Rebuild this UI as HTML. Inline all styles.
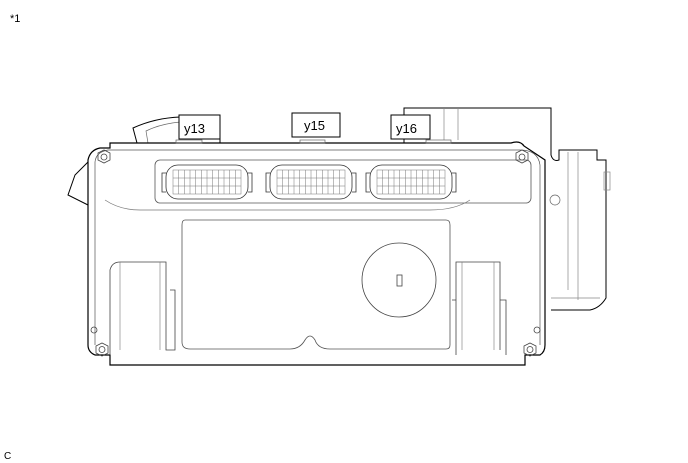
<!DOCTYPE html>
<html><head><meta charset="utf-8"><style>
html,body{margin:0;padding:0;background:#fff;}
svg{display:block;font-family:"Liberation Sans",sans-serif;}
</style></head><body>
<svg width="688" height="463" viewBox="0 0 688 463" xmlns="http://www.w3.org/2000/svg">
<rect width="688" height="463" fill="#fff"/>
<text x="10" y="22" font-size="11">*1</text>
<text x="4" y="459" font-size="10">C</text>
<g fill="none" stroke="#000" stroke-width="1">
<!-- left tab top -->
<path d="M137 143 L133 128 Q155 118 180 117" />
<path d="M148 143 L146 131 Q160 124 180 122" stroke="#666" stroke-width="0.7"/>
<!-- right bracket -->
<path d="M404 143 V108 H551 V155 Q553 162 559 160 V150 H597 V160 H606 V298 Q600 308 590 310 H551"/>
<path d="M444 108 V140 M458 108 V140" stroke="#888" stroke-width="0.7"/>
<path d="M568 152 V290 M578 152 V300" stroke="#888" stroke-width="0.7"/>
<path d="M551 298 H600" stroke="#888" stroke-width="0.7"/>
<rect x="604" y="172" width="6" height="18" stroke="#888" stroke-width="0.7"/>
<circle cx="555" cy="200" r="5" stroke="#666" stroke-width="0.7"/>
<!-- housing outer -->
<path d="M110 143 H511 Q520 140 524 146 L545 160 V345 Q545 352 540 355 H525 V365 H110 V355 H95 Q88 352 88 345 V160 Q90 150 100 148 H110 Z" stroke-width="1.2"/>
<path d="M95 345 V162 Q96 152 108 150 H520 Q538 150 540 165 V345" stroke="#555" stroke-width="0.7"/>
<!-- left flap -->
<path d="M88 162 L75 175 L68 195 L88 205" />
<!-- hex bolts -->
<g stroke="#444" stroke-width="0.8">
<polygon points="98,153 104,150 110,153 110,160 104,163 98,160"/><circle cx="104" cy="157" r="3"/>
<polygon points="516,153 522,150 528,153 528,160 522,163 516,160"/><circle cx="522" cy="157" r="3"/>
<polygon points="96,346 102,343 108,346 108,353 102,356 96,353"/><circle cx="102" cy="349.5" r="3"/>
<polygon points="524,346 530,343 536,346 536,353 530,356 524,353"/><circle cx="530" cy="349.5" r="3"/>
<circle cx="94" cy="330" r="3"/><circle cx="537" cy="330" r="3"/>
</g>
<!-- connector strip -->
<rect x="155" y="160" width="376" height="43" rx="5" stroke="#555" stroke-width="0.8"/>
<!-- inner big rect -->
<path d="M185 220 H446 Q450 220 450 225 V345 Q450 349 446 349 H330 Q318 349 315 340 Q310 332 305 340 Q300 349 290 349 H190 Q182 349 182 342 V225 Q182 220 185 220 Z" stroke="#555" stroke-width="0.8"/>
<path d="M105 200 Q120 210 140 210 H430 Q455 210 470 200" stroke="#777" stroke-width="0.7"/>
<circle cx="399" cy="280" r="37" stroke="#444" stroke-width="0.8"/>
<rect x="397" y="275" width="5" height="11" stroke="#444" stroke-width="0.8"/>
<!-- left latch -->
<path d="M110 355 V270 Q112 262 120 262 H166 V350 H175 V290 H170" stroke="#444" stroke-width="0.8"/>
<path d="M120 262 V350 M160 262 V350" stroke="#777" stroke-width="0.6"/>
<!-- right latch -->
<path d="M456 355 V262 H500 V350 M452 300 H456 M500 300 H506 V355" stroke="#444" stroke-width="0.8"/>
<path d="M462 262 V350 M494 262 V350" stroke="#777" stroke-width="0.6"/>
<!-- top small tabs -->
<rect x="176" y="140" width="26" height="3" stroke="#666" stroke-width="0.7"/>
<rect x="300" y="140" width="25" height="3" stroke="#666" stroke-width="0.7"/>
<rect x="426" y="140" width="25" height="3" stroke="#666" stroke-width="0.7"/>
</g>
<!-- connectors -->
<g id="c" fill="none" stroke="#333" stroke-width="0.8">
<path d="M166 173 H162 V192 H166 M248 173 H252 V192 H248"/>
<rect x="166" y="165" width="82" height="34" rx="12"/>
<g stroke-width="0.5" stroke="#777">
<rect x="173" y="170" width="68" height="24"/>
<path d="M173 178 H241 M173 186 H241 M178.7 170 V194 M184.3 170 V194 M190 170 V194 M195.7 170 V194 M201.3 170 V194 M207 170 V194 M212.7 170 V194 M218.3 170 V194 M224 170 V194 M229.7 170 V194 M235.3 170 V194"/>
</g>
</g>
<use href="#c" x="104"/>
<use href="#c" x="204"/>
<!-- label boxes -->
<g fill="#fff" stroke="#000" stroke-width="1">
<rect x="179" y="115" width="41" height="24"/>
<rect x="292" y="113" width="48" height="24"/>
<rect x="391" y="115" width="39" height="24"/>
</g>
<path d="M220 115 V143" stroke="#000"/>
<g font-size="13" fill="#000">
<text x="184" y="133">y13</text>
<text x="304" y="130">y15</text>
<text x="396" y="133">y16</text>
</g>
</svg>
</body></html>
